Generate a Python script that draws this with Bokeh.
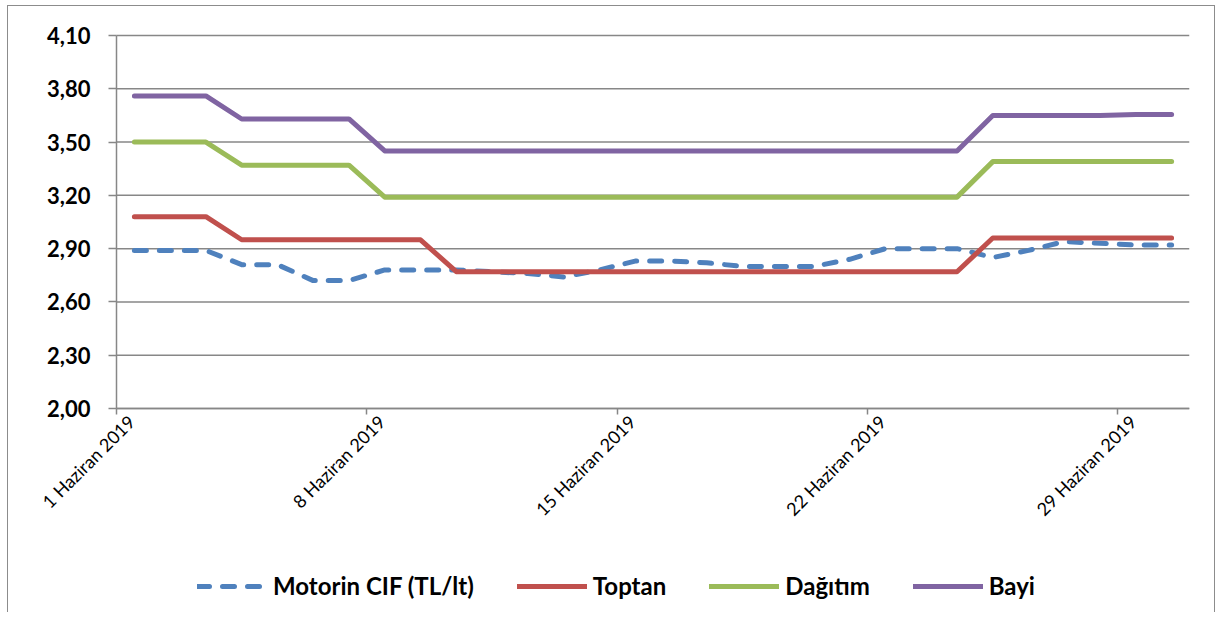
import math
import pandas as pd
from bokeh.plotting import figure
from bokeh.core.properties import value
from bokeh.models import (FixedTicker, CustomJSTickFormatter, Legend, LegendItem,
                          Range1d, ColumnDataSource, LinearAxis)
from bokeh.embed import file_html
from bokeh.resources import INLINE

# ---- data ----
dates = ["2019-06-01", "2019-06-02", "2019-06-03", "2019-06-04", "2019-06-05",
         "2019-06-06", "2019-06-07", "2019-06-08", "2019-06-09", "2019-06-10",
         "2019-06-11", "2019-06-12", "2019-06-13", "2019-06-14", "2019-06-15",
         "2019-06-16", "2019-06-17", "2019-06-18", "2019-06-19", "2019-06-20",
         "2019-06-21", "2019-06-22", "2019-06-23", "2019-06-24", "2019-06-25",
         "2019-06-26", "2019-06-27", "2019-06-28", "2019-06-29", "2019-06-30"]

motorin_cif = [2.89, 2.89, 2.89, 2.81, 2.81, 2.72, 2.72, 2.78, 2.78, 2.78,
               2.77, 2.76, 2.74, 2.78, 2.83, 2.83, 2.82, 2.80, 2.80, 2.80,
               2.84, 2.90, 2.90, 2.90, 2.85, 2.89, 2.94, 2.93, 2.92, 2.92]
toptan = [3.08, 3.08, 3.08, 2.95, 2.95, 2.95, 2.95, 2.95, 2.95, 2.77,
          2.77, 2.77, 2.77, 2.77, 2.77, 2.77, 2.77, 2.77, 2.77, 2.77,
          2.77, 2.77, 2.77, 2.77, 2.96, 2.96, 2.96, 2.96, 2.96, 2.96]
dagitim = [3.50, 3.50, 3.50, 3.37, 3.37, 3.37, 3.37, 3.19, 3.19, 3.19,
           3.19, 3.19, 3.19, 3.19, 3.19, 3.19, 3.19, 3.19, 3.19, 3.19,
           3.19, 3.19, 3.19, 3.19, 3.39, 3.39, 3.39, 3.39, 3.39, 3.39]
bayi = [3.76, 3.76, 3.76, 3.63, 3.63, 3.63, 3.63, 3.45, 3.45, 3.45,
        3.45, 3.45, 3.45, 3.45, 3.45, 3.45, 3.45, 3.45, 3.45, 3.45,
        3.45, 3.45, 3.45, 3.45, 3.65, 3.65, 3.65, 3.65, 3.655, 3.655]

series_names = ["Motorin CIF (TL/lt)", "Toptan", "Dağıtım", "Bayi"]
y_ticks = [2.00, 2.30, 2.60, 2.90, 3.20, 3.50, 3.80, 4.10]
y_tick_labels = ["2,00", "2,30", "2,60", "2,90", "3,20", "3,50", "3,80", "4,10"]
x_tick_dates = ["2019-06-01", "2019-06-08", "2019-06-15", "2019-06-22", "2019-06-29"]
x_domain = ["2019-06-01", "2019-07-01"]
month_names = ["Ocak", "Şubat", "Mart", "Nisan", "Mayıs", "Haziran", "Temmuz",
               "Ağustos", "Eylül", "Ekim", "Kasım", "Aralık"]

# ---- layout constants ----
GRID = "#878787"
FONT = "Lato"
LW = 5
PLOT_W = 1073           # pixel width of the date area
PLOT_H = 373            # pixel height of the 2,00 .. 4,10 value area
LEFT_PAD = 96           # frame extends left to hold value labels / first date label
TOP_PAD = 14            # frame extends above 4,10 so its label is not clipped
BOTTOM_PAD = 204        # frame extends below to hold date labels + legend
FRAME_H = PLOT_H + TOP_PAD + BOTTOM_PAD

y_min, y_max = y_ticks[0], y_ticks[-1]
units_per_px = (y_max - y_min) / PLOT_H
y_lo = y_min - BOTTOM_PAD * units_per_px
y_hi = y_max + TOP_PAD * units_per_px

x0_ms = pd.Timestamp(x_domain[0]).value // 10**6
x1_ms = pd.Timestamp(x_domain[1]).value // 10**6
x_lo = x0_ms - LEFT_PAD * (x1_ms - x0_ms) / PLOT_W

# ---- build ----
x = pd.to_datetime(dates) + pd.Timedelta(hours=12)   # points at mid-day
src = ColumnDataSource(dict(x=x, cif=motorin_cif, toptan=toptan,
                            dagitim=dagitim, bayi=bayi))

p = figure(x_axis_type="datetime",
           x_range=Range1d(x_lo, x1_ms),
           y_range=Range1d(y_lo, y_hi),
           frame_width=PLOT_W + LEFT_PAD, frame_height=FRAME_H,
           min_border_left=12, min_border_right=25,
           min_border_top=29 - TOP_PAD, min_border_bottom=0,
           output_backend="svg", toolbar_location=None)
p.styles = {"margin-left": "7px", "margin-top": "5px",
            "border-left": "1px solid #8c8c8c",
            "border-right": "1px solid #8c8c8c",
            "border-top": "1px solid #8c8c8c"}
p.outline_line_color = None
p.background_fill_color = "white"
p.border_fill_color = "white"
p.xgrid.visible = False
p.ygrid.visible = False

# horizontal gridlines across the date area only
n = len(y_ticks)
p.segment(x0=[x0_ms] * n, y0=y_ticks, x1=[x1_ms] * n, y1=y_ticks,
          line_color=GRID, line_width=1.5)

# value labels left of the axis
p.text(x=[x0_ms] * n, y=y_ticks, text=y_tick_labels, x_offset=-26,
       text_align="right", text_baseline="middle",
       text_font=value(FONT), text_font_style="bold", text_font_size="22px",
       text_color="black")

r_cif = p.line("x", "cif", source=src, color="#4F81BD", line_width=LW,
               line_dash="12 13", line_cap="round", line_join="round")
r_top = p.line("x", "toptan", source=src, color="#C0504D", line_width=LW,
               line_cap="round", line_join="round")
r_dag = p.line("x", "dagitim", source=src, color="#9BBB59", line_width=LW,
               line_cap="round", line_join="round")
r_bay = p.line("x", "bayi", source=src, color="#8064A2", line_width=LW,
               line_cap="round", line_join="round")

# y axis: line + outward ticks at 1 Haziran, limited to the value area
p.yaxis.fixed_location = x0_ms
p.yaxis.bounds = (y_min, y_max)
p.yaxis.ticker = FixedTicker(ticks=y_ticks)
p.yaxis.major_label_text_color = None
p.yaxis.major_label_text_font_size = "1px"
p.yaxis.major_label_standoff = 0
p.yaxis.major_tick_out = 8
p.yaxis.major_tick_in = 0
p.yaxis.minor_tick_line_color = None
p.yaxis.axis_line_color = GRID
p.yaxis.axis_line_width = 1.5
p.yaxis.major_tick_line_color = GRID
p.yaxis.major_tick_line_width = 1.5

# x axis at 2,00: line + tick marks
tick_ms = [pd.Timestamp(d).value // 10**6 for d in x_tick_dates]
date_fmt = CustomJSTickFormatter(
    args=dict(months=month_names),
    code="const d = new Date(tick); return d.getUTCDate() + ' ' + months[d.getUTCMonth()] + ' ' + d.getUTCFullYear();")
p.xaxis.fixed_location = y_min
p.xaxis.bounds = (x0_ms, x1_ms)
p.xaxis.ticker = FixedTicker(ticks=tick_ms)
p.xaxis.formatter = date_fmt
p.xaxis.major_label_text_color = None
p.xaxis.major_label_text_font_size = "1px"
p.xaxis.major_label_standoff = 0
p.xaxis.major_tick_out = 6
p.xaxis.major_tick_in = 0
p.xaxis.minor_tick_line_color = None
p.xaxis.axis_line_color = GRID
p.xaxis.axis_line_width = 1.5
p.xaxis.major_tick_line_color = GRID
p.xaxis.major_tick_line_width = 1.5

# x tick labels (Excel places the rotated label end slightly right of the tick)
label_shift_ms = 10 * 3600 * 1000
lab_axis = LinearAxis(ticker=FixedTicker(ticks=[t + label_shift_ms for t in tick_ms]),
                      formatter=date_fmt, fixed_location=y_min)
lab_axis.axis_line_color = None
lab_axis.major_tick_line_color = None
lab_axis.minor_tick_line_color = None
lab_axis.major_tick_out = 0
lab_axis.major_tick_in = 0
lab_axis.major_label_standoff = 10
lab_axis.major_label_orientation = math.pi / 4
lab_axis.major_label_text_font = FONT
lab_axis.major_label_text_font_size = "18px"
lab_axis.major_label_text_color = "black"
p.add_layout(lab_axis, "below")

legend = Legend(items=[LegendItem(label=series_names[0], renderers=[r_cif]),
                       LegendItem(label=series_names[1], renderers=[r_top]),
                       LegendItem(label=series_names[2], renderers=[r_dag]),
                       LegendItem(label=series_names[3], renderers=[r_bay])],
                orientation="horizontal", location=(LEFT_PAD + 81, 12), margin=0,
                padding=0, spacing=43, label_standoff=6,
                glyph_width=70, glyph_height=24,
                label_text_font=FONT, label_text_font_style="bold",
                label_text_font_size="24px", label_text_color="black",
                border_line_color=None, background_fill_alpha=0)
p.add_layout(legend)

open("out.html", "w").write(file_html(p, INLINE))
